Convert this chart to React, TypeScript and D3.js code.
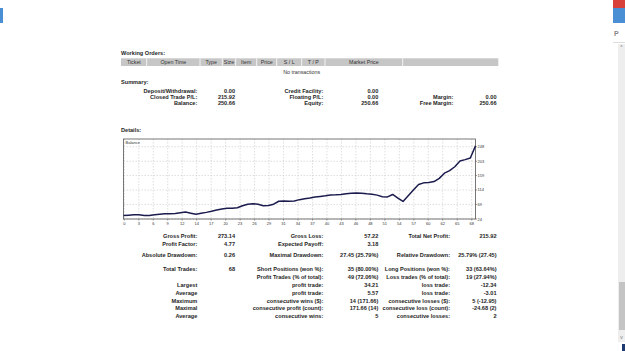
import React from "react";
import { scaleLinear, scalePoint, line } from "d3";

// balance after each closed trade (index 0 = start)
const balance = [
  34.74, 36, 37.5, 37, 35, 34.5, 37, 38.5, 40, 40.5, 41, 43.5, 45.5, 42, 38.5,
  41.5, 44.5, 48, 52, 55, 57, 57.5, 59, 65, 70, 71.5, 70, 65, 66, 70, 79, 80,
  79, 80, 84, 87, 89, 92, 94, 96, 98.5, 99, 100, 102, 103.5, 104.5, 104, 102,
  100.6, 98, 93, 92.5, 100, 89, 78.5, 96, 114, 131, 136, 137.5, 140, 150, 166,
  174, 186, 204, 208, 213, 250.66,
];
const xTickLabels = [
  "0", "3", "6", "9", "12", "14", "17", "20", "23", "26", "29", "31", "34",
  "37", "40", "43", "46", "48", "51", "54", "57", "60", "62", "65", "68",
];
const yTickValues = [24, 69, 114, 159, 203, 248];

const ordersHeader = ["Ticket", "Open Time", "Type", "Size", "Item", "Price", "S / L", "T / P", "Market Price", ""];

const summaryRows = [
  ["Deposit/Withdrawal:", "0.00", "Credit Facility:", "0.00", "", ""],
  ["Closed Trade P/L:", "215.92", "Floating P/L:", "0.00", "Margin:", "0.00"],
  ["Balance:", "250.66", "Equity:", "250.66", "Free Margin:", "250.66"],
];

const detailRows = [
  ["Gross Profit:", "273.14", "Gross Loss:", "57.22", "Total Net Profit:", "215.92"],
  ["Profit Factor:", "4.77", "Expected Payoff:", "3.18", "", ""],
  ["Absolute Drawdown:", "0.26", "Maximal Drawdown:", "27.45 (25.79%)", "Relative Drawdown:", "25.79% (27.45)"],
  ["Total Trades:", "68", "Short Positions (won %):", "35 (80.00%)", "Long Positions (won %):", "33 (63.64%)"],
  ["", "", "Profit Trades (% of total):", "49 (72.06%)", "Loss trades (% of total):", "19 (27.94%)"],
  ["Largest", "", "profit trade:", "34.21", "loss trade:", "-12.34"],
  ["Average", "", "profit trade:", "5.57", "loss trade:", "-3.01"],
  ["Maximum", "", "consecutive wins ($):", "14 (171.66)", "consecutive losses ($):", "5 (-12.95)"],
  ["Maximal", "", "consecutive profit (count):", "171.66 (14)", "consecutive loss (count):", "-24.68 (2)"],
  ["Average", "", "consecutive wins:", "5", "consecutive losses:", "2"],
];

const FONT = "'Liberation Sans', Arial, sans-serif";
const FS = 5.6;
const TXT = "#1e1e1e";

export default function App() {
  const W = 625;
  const H = 351;

  // chart frame
  const left = 123.5, right = 475.5, top = 139, bottom = 219;
  const x = scaleLinear().domain([0, balance.length - 1]).range([left, right]);
  const y = scaleLinear().domain([24, 272]).range([bottom, top]);
  const xt = scalePoint().domain(xTickLabels).range([124.3, 471.7]);
  const path = line<number>()
    .x((d, i) => x(i))
    .y((d) => y(d))(balance);

  // text column anchors (right aligned)
  const colX = [197.3, 235, 323.3, 378.3, 450, 496.5];
  const summaryColX = [197.3, 235, 323.3, 378.3, 453.3, 496.5];
  const summaryY = [90.7, 96.7, 102.5];
  const detailY = [236, 243.6, 255, 269.3, 277.2, 285, 292.8, 300.6, 308.4, 316.2];

  // orders table header column edges
  const hdrEdges = [121, 146.7, 200, 222.3, 235.7, 256.7, 276.7, 301.7, 325, 402.7, 498.3];

  const renderRow = (row: string[], yy: number, cols: number[], key: string) =>
    row.map((t, i) =>
      t ? (
        <text
          key={key + i}
          x={cols[i]}
          y={yy}
          textAnchor="end"
          dominantBaseline="central"
          fontSize={FS}
          fontWeight="bold"
          fill={TXT}
        >
          {t}
        </text>
      ) : null
    );

  return (
    <svg
      width={W}
      height={H}
      style={{ position: "absolute", left: 0, top: 0, background: "#fff" }}
      fontFamily={FONT}
    >
      <rect x={0} y={0} width={W} height={H} fill="#fff" />

      {/* browser chrome bits */}
      <rect x={0} y={8} width={3} height={15} fill="#4a8fd4" />
      <rect x={613} y={0} width={12} height={8} fill="#d8413a" />
      <rect x={613} y={8} width={12} height={15} fill="#4a8fd4" />
      <text x={614} y={36} fontSize={7} fill="#888" fontWeight="bold">P</text>
      <line x1={613} x2={625} y1={42.5} y2={42.5} stroke="#ddd" />
      <rect x={618} y={44} width={7} height={298} fill="#eeeeee" />
      <rect x={619} y={282} width={6} height={48} fill="#c4c4c4" />
      <text x={621.5} y={49} fontSize={5} textAnchor="middle" fill="#777">^</text>
      <text x={621.5} y={339} fontSize={5} textAnchor="middle" fill="#777">v</text>
      <rect x={622} y={344} width={3} height={7} fill="#1e3a6e" />

      {/* working orders */}
      <text x={121} y={53.3} fontSize={FS} fontWeight="bold" dominantBaseline="central" fill={TXT}>
        Working Orders:
      </text>
      <rect x={hdrEdges[0]} y={58.3} width={hdrEdges[hdrEdges.length - 1] - hdrEdges[0]} height={7.7} fill="#c6c6c6" />
      {hdrEdges.slice(1, -1).map((e, i) => (
        <line key={"he" + i} x1={e} x2={e} y1={58.3} y2={66} stroke="#fff" strokeWidth={0.8} />
      ))}
      {ordersHeader.map((h, i) => (
        <text
          key={"h" + i}
          x={(hdrEdges[i] + hdrEdges[i + 1]) / 2}
          y={62.2}
          textAnchor="middle"
          dominantBaseline="central"
          fontSize={FS - 0.3}
          fill="#333"
        >
          {h}
        </text>
      ))}
      <text x={301.7} y={72.3} textAnchor="middle" dominantBaseline="central" fontSize={FS - 0.3} fill="#333">
        No transactions
      </text>

      {/* summary */}
      <text x={121} y={82} fontSize={FS} fontWeight="bold" dominantBaseline="central" fill={TXT}>
        Summary:
      </text>
      {summaryRows.map((r, i) => renderRow(r, summaryY[i], summaryColX, "s" + i))}

      {/* details */}
      <text x={121} y={130} fontSize={FS} fontWeight="bold" dominantBaseline="central" fill={TXT}>
        Details:
      </text>

      {/* grid */}
      {xTickLabels.map((l) => (
        <line
          key={"gx" + l}
          x1={xt(l)}
          x2={xt(l)}
          y1={top}
          y2={bottom}
          stroke="#c8c8c8"
          strokeWidth={0.6}
          strokeDasharray="1.5,1.5"
        />
      ))}
      {yTickValues.map((v) => (
        <line
          key={"gy" + v}
          x1={left}
          x2={right}
          y1={y(v)}
          y2={y(v)}
          stroke="#c8c8c8"
          strokeWidth={0.6}
          strokeDasharray="1.5,1.5"
        />
      ))}
      <rect x={left} y={top} width={right - left} height={bottom - top} fill="none" stroke="#555" strokeWidth={0.8} />
      <text x={left + 2} y={top + 3.5} fontSize={4} dominantBaseline="central" fill="#333">
        Balance
      </text>

      <path d={path || ""} fill="none" stroke="#1b1b4d" strokeWidth={1.5} strokeLinejoin="round" />

      {/* axes labels */}
      {xTickLabels.map((l) => (
        <g key={"xt" + l}>
          <line x1={xt(l)} x2={xt(l)} y1={bottom} y2={bottom + 1.5} stroke="#555" strokeWidth={0.6} />
          <text x={xt(l)} y={bottom + 4.3} textAnchor="middle" dominantBaseline="central" fontSize={4} fill="#333">
            {l}
          </text>
        </g>
      ))}
      {yTickValues.map((v) => (
        <g key={"yt" + v}>
          <line x1={right} x2={right + 1.5} y1={y(v)} y2={y(v)} stroke="#555" strokeWidth={0.6} />
          <text x={right + 2} y={y(v)} dominantBaseline="central" fontSize={4} fill="#333">
            {v}
          </text>
        </g>
      ))}

      {detailRows.map((r, i) => renderRow(r, detailY[i], colX, "d" + i))}
    </svg>
  );
}
